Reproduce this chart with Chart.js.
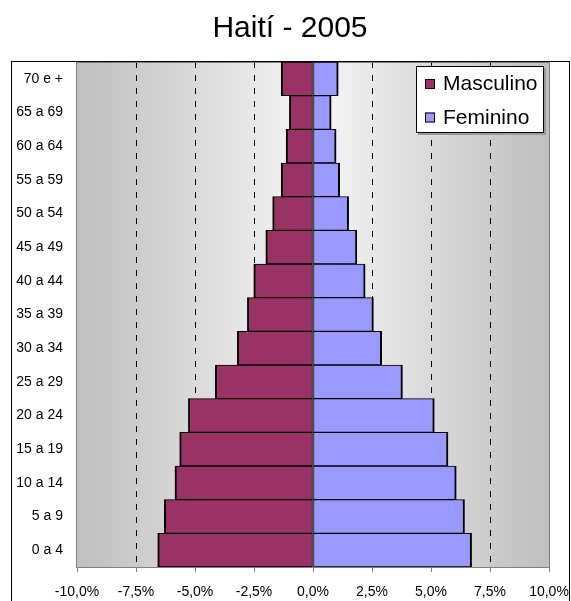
<!DOCTYPE html>
<html>
<head>
<meta charset="utf-8">
<script src="https://cdn.jsdelivr.net/npm/chart.js@4"></script>
<style>
html,body{margin:0;padding:0;background:#fff;}
#wrap{width:571px;height:601px;position:relative;}
</style>
</head>
<body>
<div id="wrap"><canvas id="c"></canvas></div>
<script>
const titleText = 'Haití - 2005';
const ageGroups = ['70 e +','65 a 69','60 a 64','55 a 59','50 a 54','45 a 49','40 a 44','35 a 39','30 a 34','25 a 29','20 a 24','15 a 19','10 a 14','5 a 9','0 a 4'];
const masculino = [-1.35,-1.00,-1.14,-1.35,-1.71,-2.00,-2.51,-2.78,-3.21,-4.14,-5.28,-5.65,-5.85,-6.30,-6.58];
const feminino = [1.07,0.77,0.98,1.13,1.51,1.86,2.21,2.56,2.91,3.79,5.14,5.72,6.07,6.42,6.72];
const xTickLabels = ['-10,0%','-7,5%','-5,0%','-2,5%','0,0%','2,5%','5,0%','7,5%','10,0%'];

const FONT = "'Liberation Sans', Arial, sans-serif";
const maleColor = '#993366';
const femaleColor = '#9999FF';

const decorPlugin = {
  id: 'decor',
  beforeDraw(chart) {
    const {ctx, chartArea: a} = chart;
    ctx.save();
    ctx.fillStyle = '#fff';
    ctx.fillRect(0, 0, chart.width, chart.height);
    const g = ctx.createLinearGradient(a.left, 0, a.right, 0);
    g.addColorStop(0, '#c0c0c0');
    g.addColorStop(0.04, '#c2c2c2');
    g.addColorStop(0.5, '#f6f6f6');
    g.addColorStop(0.96, '#c2c2c2');
    g.addColorStop(1, '#c0c0c0');
    ctx.fillStyle = g;
    ctx.fillRect(a.left, a.top, a.right - a.left, a.bottom - a.top);
    ctx.restore();
  },
  beforeDatasetsDraw(chart) {
    const {ctx, chartArea: a} = chart;
    ctx.save();
    ctx.strokeStyle = '#808080';
    ctx.lineWidth = 1;
    ctx.strokeRect(Math.round(a.left) - 0.5, Math.round(a.top) + 0.5, Math.round(a.right - a.left) + 1, Math.round(a.bottom - a.top));
    ctx.restore();
  },
  afterDraw(chart) {
    const {ctx} = chart;
    ctx.save();
    // outer frame
    ctx.strokeStyle = '#000';
    ctx.lineWidth = 1;
    ctx.strokeRect(11.5, 61.5, 558, 600);
    // title
    ctx.fillStyle = '#000';
    ctx.font = '30px ' + FONT;
    ctx.textAlign = 'center';
    ctx.textBaseline = 'alphabetic';
    ctx.fillText(titleText, 290, 37);
    // legend
    const lx = 416, ly = 66, lw = 128, lh = 67;
    ctx.fillStyle = '#9a9a9a';
    ctx.fillRect(lx + 2, ly + 2, lw, lh);
    ctx.fillStyle = '#fff';
    ctx.fillRect(lx, ly, lw, lh);
    ctx.strokeStyle = '#000';
    ctx.strokeRect(lx + 0.5, ly + 0.5, lw - 1, lh - 1);
    const items = chart.data.datasets;
    ctx.font = '21px ' + FONT;
    ctx.textAlign = 'left';
    items.forEach((ds, i) => {
      const sy = 79 + i * 33.5;
      ctx.fillStyle = ds.backgroundColor;
      ctx.fillRect(425, sy, 10, 10);
      ctx.strokeStyle = '#000';
      ctx.strokeRect(425.5, sy + 0.5, 9, 9);
      ctx.fillStyle = '#000';
      ctx.fillText(ds.label, 443, sy + 11);
    });
    ctx.restore();
  }
};

new Chart(document.getElementById('c'), {
  type: 'bar',
  data: {
    labels: ageGroups,
    datasets: [
      {
        label: 'Masculino',
        data: masculino,
        backgroundColor: maleColor,
        borderColor: '#000',
        borderWidth: {top: 1, bottom: 1, left: 2, right: 1},
        borderSkipped: false,
        barPercentage: 1,
        categoryPercentage: 1
      },
      {
        label: 'Feminino',
        data: feminino,
        backgroundColor: femaleColor,
        borderColor: '#000',
        borderWidth: {top: 1, bottom: 1, left: 1, right: 2},
        borderSkipped: false,
        barPercentage: 1,
        categoryPercentage: 1
      }
    ]
  },
  options: {
    indexAxis: 'y',
    responsive: true,
    maintainAspectRatio: false,
    animation: false,
    layout: {padding: {top: 62, left: 12, right: 22, bottom: 0}},
    plugins: {
      legend: {display: false},
      title: {display: false},
      tooltip: {enabled: false}
    },
    scales: {
      x: {
        stacked: true,
        min: -10,
        max: 10,
        ticks: {
          stepSize: 2.5,
          color: '#000',
          font: {family: FONT, size: 14},
          padding: 12,
          maxRotation: 0,
          callback: (v, i) => xTickLabels[i]
        },
        grid: {
          color: (c) => {
            const v = c.tick ? c.tick.value : null;
            return (v === null || v === 0 || v === -10 || v === 10) ? 'rgba(0,0,0,0)' : '#000';
          },
          lineWidth: 1,
          drawTicks: true,
          tickLength: 5,
          tickColor: '#808080',
          tickBorderDash: []
        },
        border: {display: false, dash: [6, 7]},
        afterFit: (s) => { s.height = 34; s.paddingLeft = 0; s.paddingRight = 0; }
      },
      y: {
        stacked: true,
        ticks: {
          color: '#000',
          font: {family: FONT, size: 14},
          padding: 14
        },
        grid: {display: false, drawTicks: false},
        border: {display: false},
        afterFit: (s) => { s.width = 65; }
      }
    }
  },
  plugins: [decorPlugin]
});
</script>
</body>
</html>
